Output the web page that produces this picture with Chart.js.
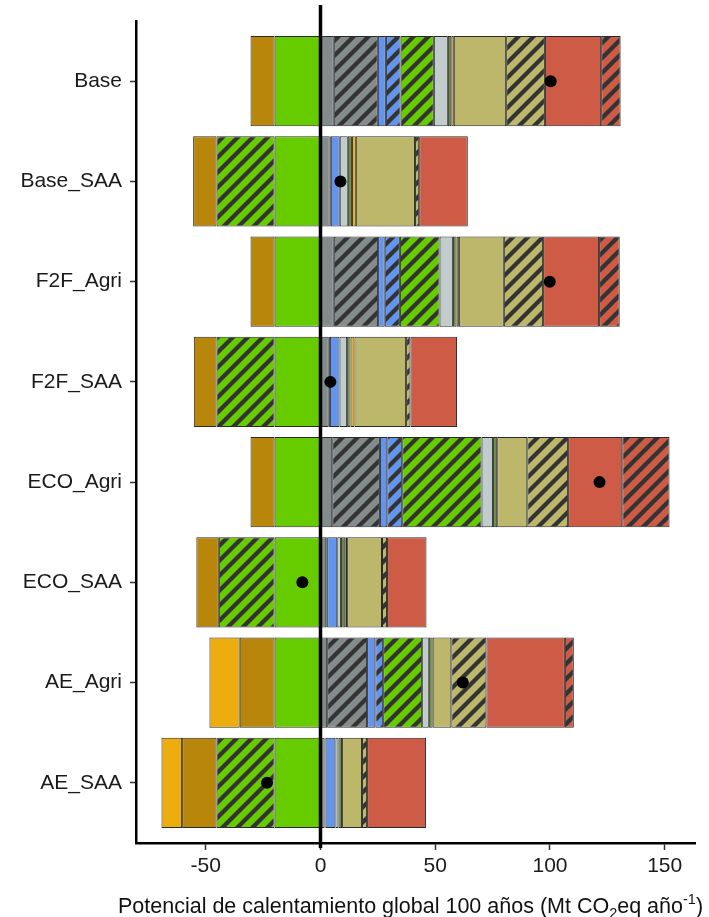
<!DOCTYPE html>
<html>
<head>
<meta charset="utf-8">
<script src="https://cdn.jsdelivr.net/npm/chart.js@4/dist/chart.umd.min.js"></script>
<style>
  html, body { margin: 0; padding: 0; background: #ffffff; }
  #wrap { width: 709px; height: 917px; }
</style>
</head>
<body>
<div id="wrap"><canvas id="c" width="709" height="917"></canvas></div>
<script>
// Scenarios (top to bottom)
const categories = ['Base', 'Base_SAA', 'F2F_Agri', 'F2F_SAA', 'ECO_Agri', 'ECO_SAA', 'AE_Agri', 'AE_SAA'];
const xTicks = [-50, 0, 50, 100, 150];

// Component contributions, Mt CO2eq per year
const green     = [-20, -20, -20, -20, -20, -20, -20, -20];
const gray      = [5.8, 4.0, 5.8, 3.6, 5.1, 2.5, 2.9, 1.8];
const grayH     = [19.2, 0.5, 19.3, 0.5, 20.8, 0.4, 17.4, 0.4];
const blue      = [3.5, 3.9, 2.9, 4.2, 3.2, 4.4, 3.6, 4.3];
const blueH     = [6.4, 0, 6.6, 0, 6.5, 0, 3.4, 0];
const greenH    = [14.5, -25.3, 17.3, -25.3, 34.6, -24.3, 17.0, -25.3];
const lightGray = [6.1, 3.5, 5.8, 3.3, 5.0, 1.6, 2.9, 1.3];
const darkOlive = [1.5, 1.8, 1.6, 1.5, 1.8, 1.9, 1.7, 1.6];
const goldenrod = [-10.5, -10.2, -10.5, -9.9, -10.5, -9.8, -15.2, -15.0];
const orange    = [1.1, 1.7, 1.0, 1.7, 0, 0.8, -13.2, -9.0];
const khaki     = [22.8, 25.8, 19.6, 22.5, 13.1, 15.2, 8.1, 8.7];
const khakiH    = [16.9, 1.8, 17.1, 1.9, 17.8, 2.2, 15.3, 2.2];
const red       = [24.5, 21.2, 24.4, 20.3, 23.6, 17.2, 34.2, 25.7];
const redH      = [8.5, 0, 9.0, 0, 20.6, 0, 3.9, 0];

// Diagonal stripe fill for the hatched components
function hatch(base) {
  const s = 15;
  const t = document.createElement('canvas');
  t.width = s; t.height = s;
  const g = t.getContext('2d');
  g.fillStyle = base;
  g.fillRect(0, 0, s, s);
  g.strokeStyle = '#333333';
  g.lineWidth = 4.2;
  g.lineCap = 'square';
  for (const o of [-s, 0, s]) {
    g.beginPath();
    g.moveTo(o, s);
    g.lineTo(o + s, 0);
    g.stroke();
  }
  return g.createPattern(t, 'repeat');
}

const C = {
  green: '#66CC00', gray: '#838B8B', blue: '#6495ED', lightGray: '#C1CDCD',
  darkOlive: '#6E8B3D', goldenrod: '#B8860B', orange: '#EEAD0E',
  khaki: '#BDB76B', red: '#CD5B45'
};

const series = [
  ['green', green, C.green],
  ['gray', gray, C.gray],
  ['grayH', grayH, hatch(C.gray)],
  ['blue', blue, C.blue],
  ['blueH', blueH, hatch(C.blue)],
  ['greenH', greenH, hatch(C.green)],
  ['lightGray', lightGray, C.lightGray],
  ['darkOlive', darkOlive, C.darkOlive],
  ['goldenrod', goldenrod, C.goldenrod],
  ['orange', orange, C.orange],
  ['khaki', khaki, C.khaki],
  ['khakiH', khakiH, hatch(C.khaki)],
  ['red', red, C.red],
  ['redH', redH, hatch(C.red)]
];

const net = categories.map((_, i) => series.reduce((a, s) => a + s[1][i], 0));

const datasets = series.map(([label, vals, fill]) => ({
  type: 'bar',
  label,
  data: vals.map((v, i) => ({ x: v, y: i })),
  backgroundColor: fill,
  borderColor: '#2a2a2a',
  borderWidth: 1,
  borderSkipped: false,
  stack: 'parts',
  categoryPercentage: 1,
  barPercentage: 0.9,
  order: 0
}));

datasets.push({
  type: 'scatter',
  label: 'net',
  data: net.map((v, i) => ({ x: v, y: i })),
  stack: 'net',
  pointRadius: 6,
  pointBackgroundColor: '#000',
  pointBorderWidth: 0,
  order: -1
});
const netIndex = datasets.length - 1;

const FONT = "'Liberation Sans', Arial, sans-serif";

// Vertical reference line at zero, drawn just beneath the net markers
const zeroLine = {
  id: 'zeroLine',
  beforeDatasetDraw(chart, args) {
    if (args.index !== netIndex) return;
    const x = chart.scales.x.getPixelForValue(0);
    const ctx = chart.ctx;
    ctx.save();
    ctx.strokeStyle = '#000';
    ctx.lineWidth = 3.5;
    ctx.beginPath();
    ctx.moveTo(x, 5);
    ctx.lineTo(x, chart.chartArea.bottom + 5);
    ctx.stroke();
    ctx.restore();
  }
};

// Axis title with subscript / superscript parts
const axisTitle = {
  id: 'axisTitle',
  afterDraw(chart) {
    const parts = [
      { t: 'Potencial de calentamiento global 100 años (Mt CO', s: 21.5, dy: 0 },
      { t: '2', s: 14.5, dy: 5 },
      { t: 'eq año', s: 21.5, dy: 0 },
      { t: '-1', s: 14.5, dy: -9 },
      { t: ')', s: 21.5, dy: 0 }
    ];
    const ctx = chart.ctx;
    ctx.save();
    ctx.fillStyle = '#111';
    ctx.textBaseline = 'alphabetic';
    ctx.textAlign = 'left';
    let w = 0;
    for (const p of parts) { ctx.font = p.s + 'px ' + FONT; p.w = ctx.measureText(p.t).width; w += p.w; }
    const ca = chart.chartArea;
    let x = (ca.left + ca.right) / 2 - w / 2 - 5;
    const y = 913;
    for (const p of parts) {
      ctx.font = p.s + 'px ' + FONT;
      ctx.fillText(p.t, x, y + p.dy);
      x += p.w;
    }
    ctx.restore();
  }
};

new Chart(document.getElementById('c'), {
  data: { datasets },
  plugins: [zeroLine, axisTitle],
  options: {
    responsive: false,
    animation: false,
    indexAxis: 'y',
    layout: { padding: { top: 21, right: 14, left: 0, bottom: 0 } },
    plugins: { legend: { display: false }, tooltip: { enabled: false } },
    scales: {
      x: {
        type: 'linear',
        min: -80.4,
        max: 163.2,
        stacked: true,
        afterBuildTicks: s => { s.ticks = xTicks.map(v => ({ value: v })); },
        afterFit: s => { s.height = 74; },
        border: { display: true, color: '#000', width: 2.5 },
        grid: { drawOnChartArea: false, drawTicks: true, tickLength: 7, tickColor: '#333', tickWidth: 1.5 },
        ticks: { font: { family: FONT, size: 21 }, color: '#1a1a1a', padding: 4, maxRotation: 0 }
      },
      y: {
        type: 'linear',
        reverse: true,
        offset: false,
        min: -0.6,
        max: 7.6,
        stacked: true,
        afterBuildTicks: s => { s.ticks = categories.map((_, i) => ({ value: i })); },
        afterFit: s => { s.width = 136; },
        border: { display: true, color: '#000', width: 2.5 },
        grid: { offset: false, drawOnChartArea: false, drawTicks: true, tickLength: 6, tickColor: '#333', tickWidth: 1.5 },
        ticks: {
          font: { family: FONT, size: 21 }, color: '#1a1a1a', padding: 8,
          callback: v => categories[v]
        }
      }
    }
  }
});
</script>
</body>
</html>
